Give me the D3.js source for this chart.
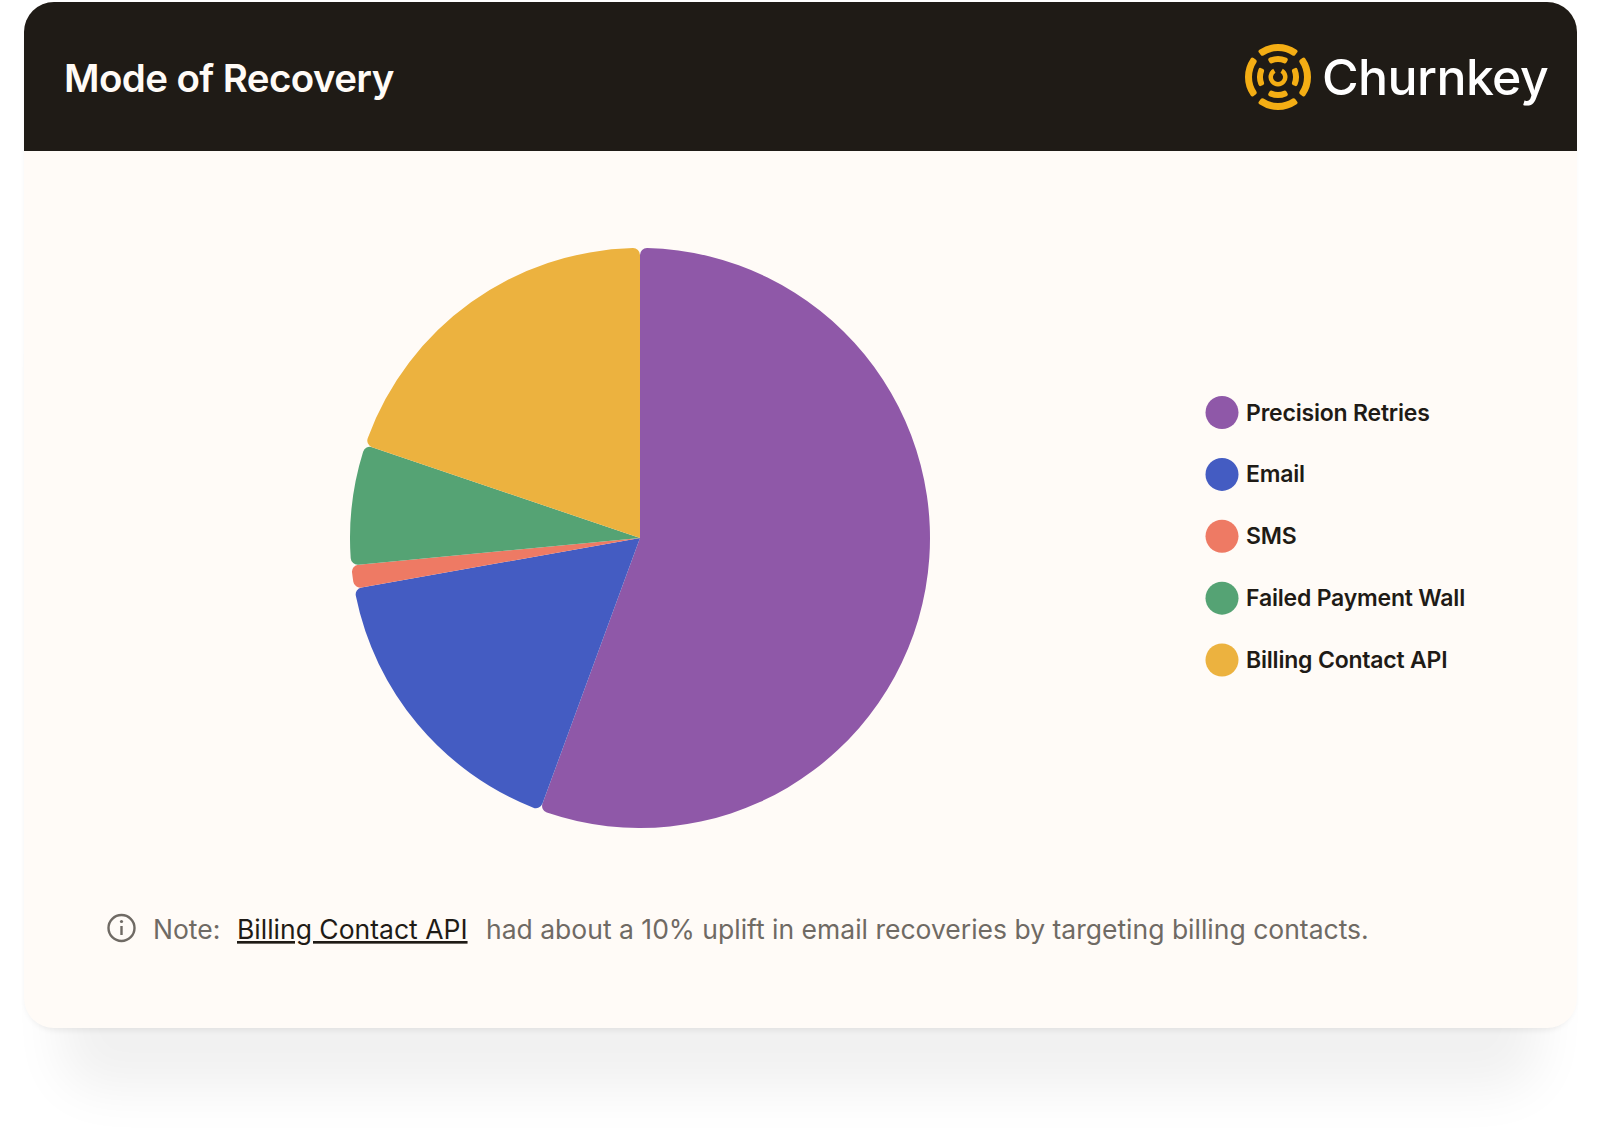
<!DOCTYPE html>
<html><head><meta charset="utf-8">
<script src="https://cdnjs.cloudflare.com/ajax/libs/d3/7.8.5/d3.min.js"></script>
<style>html,body{margin:0;padding:0;background:#fff}svg{display:block}text{font-family:Inter,"Noto Sans",sans-serif}</style>
</head><body><div id="c"></div>
<script>
const categories=["Precision Retries","Email","SMS","Failed Payment Wall","Billing Contact API"];
const values=[55.6,16.6,1.3,6.7,19.8];
const colors=["#8F58A8","#445CC2","#EE7A64","#55A374","#ECB23F"];
const title="Mode of Recovery";
const brand="Churnkey";
const noteParts=["Note:","Billing Contact API","had about a 10% uplift in email recoveries by targeting billing contacts."];

const svg=d3.select("#c").append("svg").attr("width",1600).attr("height",1132);
const defs=svg.append("defs");
const f=defs.append("filter").attr("id","sh").attr("x","-10%").attr("y","-10%").attr("width","120%").attr("height","130%");
f.append("feGaussianBlur").attr("stdDeviation",26);
const f2=defs.append("filter").attr("id","sh2").attr("x","-5%").attr("y","-5%").attr("width","110%").attr("height","110%");
f2.append("feGaussianBlur").attr("stdDeviation",3);
defs.append("clipPath").attr("id","hd").append("rect").attr("x",24).attr("y",2).attr("width",1553).attr("height",149);

// card
svg.append("rect").attr("x",60).attr("y",300).attr("width",1480).attr("height",790).attr("rx",40).attr("fill","#000").attr("opacity",.055).attr("filter","url(#sh)");
svg.append("rect").attr("x",26).attr("y",20).attr("width",1548).attr("height",1010).attr("rx",30).attr("fill","#000").attr("opacity",.07).attr("filter","url(#sh2)");
svg.append("rect").attr("x",24).attr("y",2).attr("width",1553).attr("height",1026).attr("rx",30).attr("fill","#FFFBF7");
svg.append("rect").attr("x",24).attr("y",2).attr("width",1553).attr("height",190).attr("rx",30).attr("fill","#1F1B16").attr("clip-path","url(#hd)");

svg.append("text").attr("x",64).attr("y",92).attr("font-size",38.5).attr("font-weight",600).attr("letter-spacing",-0.6).attr("fill","#FFFBF7").text(title);
svg.append("text").attr("x",1322).attr("y",95).attr("font-size",50).attr("font-weight",500).attr("letter-spacing",-0.6).attr("fill","#FFFFFF").text(brand);

// logo
const logoRings=[
 {r0:26,r1:33,a0:[0,90,180,270],w:38},
 {r0:15,r1:21,a0:[0,180],w:30},
 {r0:15,r1:21,a0:[90,270],w:28}
];
const logo=svg.append("g").attr("transform","translate(1278,77)");
const rad=d=>d*Math.PI/180;
const larc=d3.arc().cornerRadius(2);
logoRings.forEach(g=>g.a0.forEach(a=>{
  logo.append("path").attr("fill","#F4AE14").attr("d",larc({innerRadius:g.r0,outerRadius:g.r1,startAngle:rad(a-g.w),endAngle:rad(a+g.w)}));
}));
logo.append("path").attr("fill","#F4AE14").attr("d",d3.arc()({innerRadius:5,outerRadius:9.5,startAngle:rad(30),endAngle:rad(330)}));

// pie
const pie=d3.pie().sort(null).value(d=>d.v);
const arc=d3.arc().innerRadius(0).outerRadius(290).cornerRadius(7);
const pieData=pie(categories.map((c,i)=>({c,v:values[i],col:colors[i]})));
svg.append("g").attr("transform","translate(640,538)").selectAll("path").data(pieData).join("path").attr("d",arc).attr("fill",d=>d.data.col);

// legend
const ly=d3.scalePoint().domain(categories).range([412.5,660]);
const lg=svg.append("g").selectAll("g").data(categories).join("g").attr("transform",d=>`translate(0,${ly(d)})`);
lg.append("circle").attr("cx",1222).attr("r",16.5).attr("fill",(d,i)=>colors[i]);
lg.append("text").attr("x",1246).attr("y",8).attr("font-size",23).attr("font-weight",600).attr("letter-spacing",-0.2).attr("fill","#1F1B16").text(d=>d);

// note
const grey="#6F6A64";
const info=svg.append("g").attr("transform","translate(121.5,928)");
info.append("circle").attr("r",13).attr("fill","none").attr("stroke",grey).attr("stroke-width",2.4);
info.append("rect").attr("x",-1.2).attr("y",-2).attr("width",2.4).attr("height",9).attr("fill",grey);
info.append("circle").attr("cy",-6.5).attr("r",1.6).attr("fill",grey);
const ny=939, fs=26.5;
svg.append("text").attr("x",153).attr("y",ny).attr("font-size",fs).attr("font-weight",400).attr("fill",grey).text(noteParts[0]);
svg.append("text").attr("x",237).attr("y",ny).attr("font-size",fs).attr("font-weight",400).attr("fill","#1F1B16").attr("text-decoration","underline").text(noteParts[1]);
svg.append("text").attr("x",486).attr("y",ny).attr("font-size",fs).attr("font-weight",400).attr("fill",grey).text(noteParts[2]);
</script></body></html>
